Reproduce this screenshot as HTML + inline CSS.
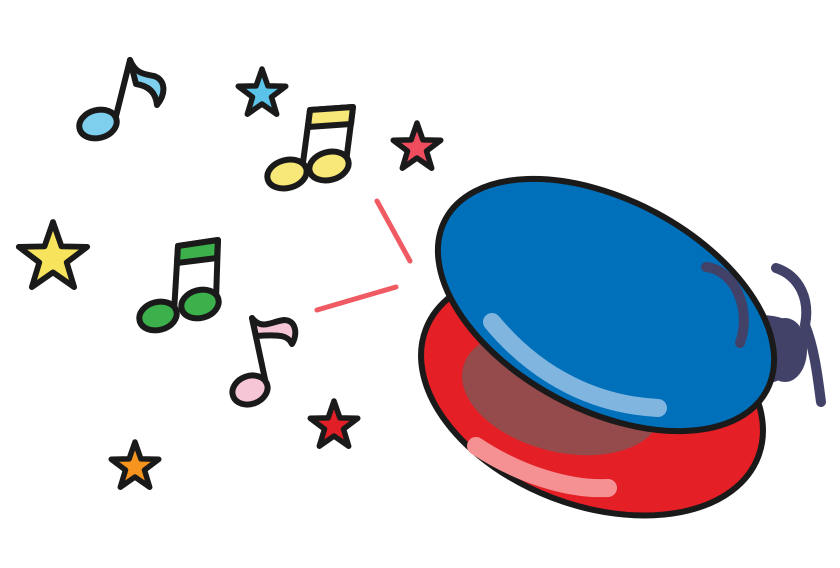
<!DOCTYPE html>
<html><head><meta charset="utf-8"><style>html,body{margin:0;padding:0;background:#fff}svg{display:block}</style></head>
<body>
<svg width="840" height="568" viewBox="0 0 840 568" xmlns="http://www.w3.org/2000/svg">
<defs>
<polygon id="star" points="0,-1 0.235,-0.324 0.951,-0.309 0.38,0.124 0.588,0.809 0,0.4 -0.588,0.809 -0.38,0.124 -0.951,-0.309 -0.235,-0.324"/>
</defs>
<g stroke="#1a1a1a" stroke-width="6" stroke-linejoin="round" stroke-linecap="round">
<use href="#star" transform="translate(53,258) scale(36)" fill="#f8e45c" stroke-width="0.16"/>
<use href="#star" transform="translate(262,94) scale(25)" fill="#5bc3e8" stroke-width="0.22"/>
<use href="#star" transform="translate(417,148) scale(25)" fill="#ef4d5e" stroke-width="0.22"/>
<use href="#star" transform="translate(334,426) scale(25)" fill="#e01f26" stroke-width="0.22"/>
<use href="#star" transform="translate(135,467) scale(25)" fill="#f7941d" stroke-width="0.22"/>
<path d="M130,60 C136,74 144,74 154,76 C166,80 166,94 157,105 C156,94 150,86 136,84 Z" fill="#7ecfee"/>
<path d="M114,124 L130,60" fill="none"/>
<ellipse cx="98" cy="124" rx="19" ry="14" transform="rotate(-15 98 124)" fill="#7ecfee"/>
<path d="M302,170 L310,110 L353,107 L346,162" fill="none"/>
<path d="M310,110 L353,107 L351,124 L308,127 Z" fill="#f8e878"/>
<ellipse cx="287" cy="174" rx="20" ry="14" transform="rotate(-15 287 174)" fill="#f8e878"/>
<ellipse cx="329" cy="166" rx="20" ry="14" transform="rotate(-15 329 166)" fill="#f8e878"/>
<path d="M174,312 L178,246 L218,240 L216,300" fill="none"/>
<path d="M178,246 L218,240 L217,258 L177,263 Z" fill="#3cb04a"/>
<ellipse cx="158" cy="316" rx="19" ry="14" transform="rotate(-15 158 316)" fill="#3cb04a"/>
<ellipse cx="200" cy="304" rx="19" ry="14" transform="rotate(-15 200 304)" fill="#3cb04a"/>
<path d="M252,318 C262,330 270,322 284,320 C296,320 298,334 292,344 C288,336 282,334 256,336 Z" fill="#f6c6d6"/>
<path d="M266,384 L252,318" fill="none"/>
<ellipse cx="250" cy="390" rx="18" ry="14" transform="rotate(-20 250 390)" fill="#f6c6d6"/>
</g>
<g stroke="#f05a62" stroke-width="5" stroke-linecap="round">
<line x1="377" y1="201" x2="410" y2="261"/>
<line x1="317" y1="310" x2="396" y2="287"/>
</g>
<g fill="none" stroke="#424269" stroke-width="10" stroke-linecap="round">
<path d="M776,268 C800,276 810,300 805,325 C815,350 818,380 821,402"/>
<path d="M760,320 C795,320 812,340 790,365 C780,378 768,378 760,380"/>
</g>
<ellipse cx="785" cy="350" rx="22" ry="32" fill="#424269"/>
<ellipse cx="592" cy="393" rx="178" ry="112" transform="rotate(21 592 393)" fill="#e41f26" stroke="#1a1a1a" stroke-width="6"/>
<ellipse cx="562" cy="392" rx="102" ry="60" transform="rotate(14 562 392)" fill="#954a4c"/>
<path d="M476,446 C520,475 570,490 608,488" fill="none" stroke="#f59193" stroke-width="18" stroke-linecap="round"/>
<ellipse cx="606" cy="305" rx="182" ry="105" transform="rotate(28 606 305)" fill="#0070bb" stroke="#1a1a1a" stroke-width="6"/>
<path d="M492,322 C540,380 600,405 658,408" fill="none" stroke="#7fb5de" stroke-width="18" stroke-linecap="round"/>
<path d="M706,267 C735,270 752,310 740,343" fill="none" stroke="#424269" stroke-width="10" stroke-linecap="round"/>
</svg>
</body></html>
